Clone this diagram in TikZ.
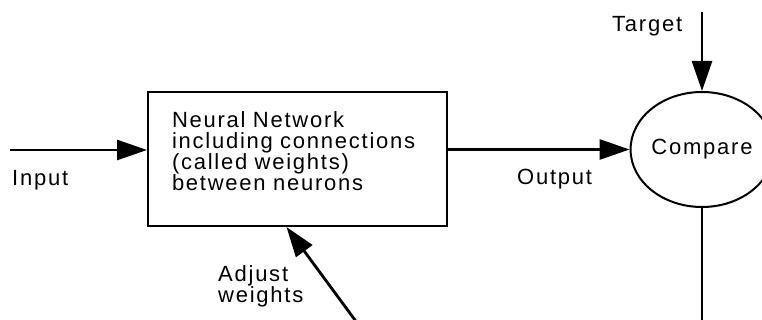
\documentclass[tikz,border=0pt]{standalone}
\usepackage{fontspec}
\setmainfont{Liberation Sans}[LetterSpace=8]
\usepackage{tikz}
\usetikzlibrary{arrows.meta,calc,positioning,shapes.geometric}
\newcommand{\lblfont}{\fontsize{22pt}{21pt}\selectfont}

\begin{document}
\begin{tikzpicture}[x=1pt,y=-1pt,
  box/.style={draw,line width=2pt,minimum width=299pt,minimum height=134pt,
    inner xsep=24pt,text width=251pt,text depth=78pt,align=left,font=\lblfont},
  cmp/.style={draw,ellipse,line width=2pt,minimum width=138pt,minimum height=115pt,
    inner sep=0pt,font=\lblfont},
  lbl/.style={inner sep=0pt,font=\lblfont},
  ln/.style={line width=2.8pt},
  arr/.style={-{Triangle[length=30pt,width=20pt]},line width=2.8pt}
]
\useasboundingbox (0,0) rectangle (762,320);

\node[box] (nn) at (297.5,159) {Neural Network\\including connections\\(called weights)\\between neurons};
\node[cmp] (cmp) at (702,149.5) {Compare};

\coordinate (inp) at (10,150);
\coordinate (tgt) at (702,12);
\coordinate (fb) at (702,335);
\coordinate (adj) at (366,335);

\draw[arr] (inp) -- (inp -| nn.west);
\draw[arr] (nn.east |- cmp.west) -- (cmp.west);
\draw[arr] (tgt) -- (cmp.north);
\draw[ln] (cmp.south) -- (fb);
\draw[arr] (adj) -- ([xshift=-11pt]nn.south);

\node[lbl,anchor=base west] (inlbl) at (12,186) {Input};
\node[lbl,anchor=base west] (outlbl) at (517,185) {Output};
\node[lbl,anchor=base west] (tgtlbl) at (612,32) {Target};
\node[lbl,anchor=base west,align=left] (adjlbl) at (218,302) {Adjust\\weights};
\end{tikzpicture}
\end{document}
